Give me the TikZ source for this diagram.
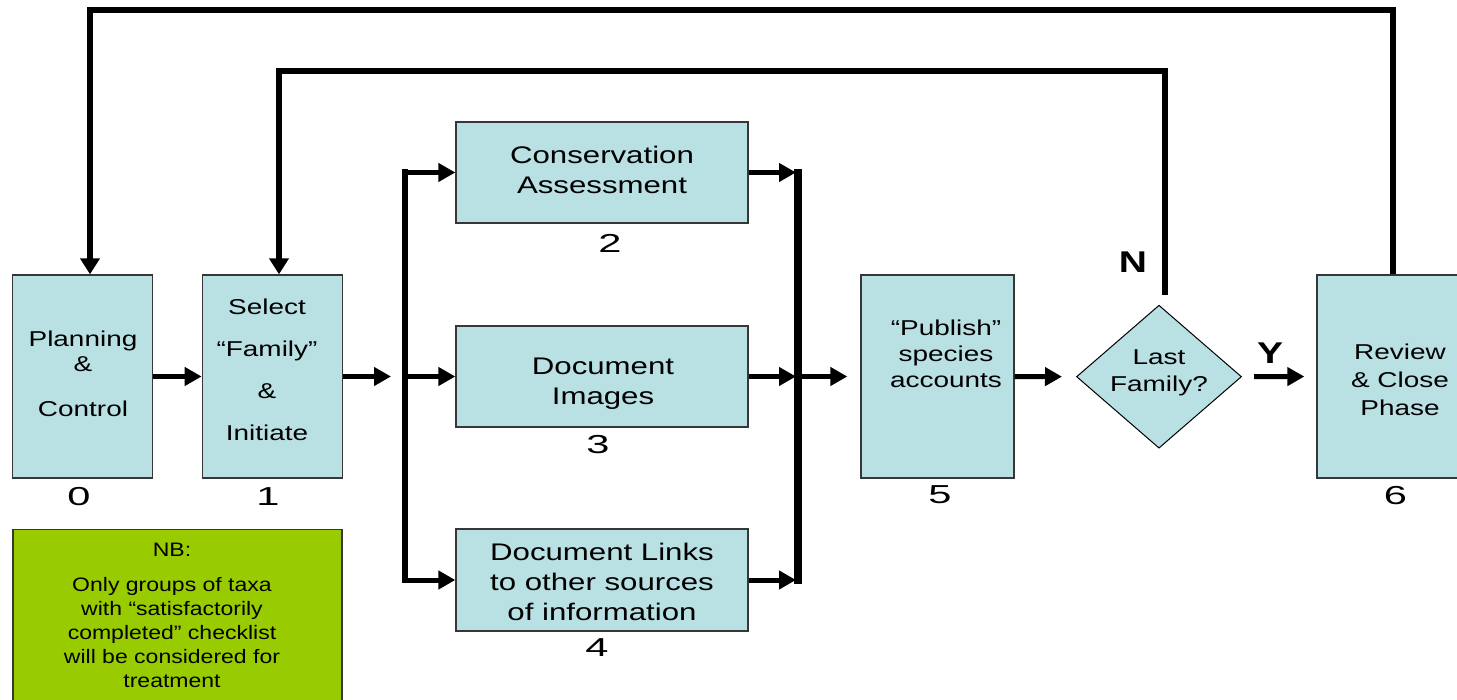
\documentclass[tikz,border=0pt]{standalone}
\usepackage{fontspec}
\setmainfont{Liberation Sans}[FakeStretch=1.3]
\newfontfamily\numfont{Liberation Sans}[FakeStretch=1.6]
\newfontfamily\notefont{Liberation Sans}[FakeStretch=1.18]
\usetikzlibrary{arrows.meta,shapes.geometric,calc}

\definecolor{boxblue}{RGB}{185,224,227}
\definecolor{notegreen}{RGB}{153,204,0}
\definecolor{edgegray}{RGB}{55,55,55}

\tikzset{
  stepbox/.style={draw=edgegray, line width=1.3pt, fill=boxblue, inner sep=0pt},
  txt/.style={align=center, inner sep=0pt, font=\fontsize{21.5}{27}\selectfont},
  bigtxt/.style={align=center, inner sep=0pt, font=\fontsize{24}{30}\selectfont},
  notetxt/.style={align=center, inner sep=0pt, font=\notefont\fontsize{19.5}{24}\selectfont},
  numlabel/.style={inner sep=0pt, font=\numfont\fontsize{26}{30}\selectfont},
  yn/.style={inner sep=0pt, font=\fontsize{30}{34}\selectfont\bfseries},
  conn/.style={line width=5pt, -{Triangle[length=17pt,width=18pt]}},
  loopline/.style={line width=6pt, -{Triangle[length=16pt,width=19pt]}},
  busbar/.style={line cap=rect},
}

\begin{document}
\begin{tikzpicture}[x=1pt,y=-1pt]
\useasboundingbox (0,0) rectangle (1457,700);

% process steps
\node[stepbox, minimum width=139.5pt, minimum height=203pt] (b0) at (82.5,376.5) {};
\node[stepbox, minimum width=140pt, minimum height=203pt] (b1) at (272.3,376.5) {};
\node[stepbox, minimum width=292pt, minimum height=101pt] (b2) at (602,172.5) {};
\node[stepbox, minimum width=292pt, minimum height=101pt] (b3) at (602,376.5) {};
\node[stepbox, minimum width=292pt, minimum height=102pt] (b4) at (602,580) {};
\node[stepbox, minimum width=153pt, minimum height=203pt] (b5) at (937.5,376.5) {};
\node[stepbox, minimum width=166pt, minimum height=203pt] (b6) at (1400,376.5) {};
\node[diamond, draw=black, line width=1pt, fill=boxblue, inner sep=0pt,
      minimum width=165pt, minimum height=143pt] (dia) at (1159,376.7) {};

% note box
\node[draw=edgegray, line width=1.3pt, fill=notegreen, inner sep=0pt,
      minimum width=329pt, minimum height=200pt] (nb) at (177.5,629.5) {};

% step texts
\node[txt] (t0) at (83,376) {\strut Planning\\[-1.3pt]\&\\[18pt]Control\strut};
\node[txt] (t1) at (267,372.1) {\strut Select\\[15pt]“Family”\\[15pt]\&\\[15pt]Initiate\strut};
\node[bigtxt] (t2) at (602,172.3) {\strut Conservation\\Assessment\strut};
\node[bigtxt] (t3) at (603,384) {\strut Document\\Images\strut};
\node[bigtxt] (t4) at (602,584) {\strut Document Links\\to other sources\\of information\strut};
\node[txt] (t5) at (946,356.6) {\strut “Publish”\\[-1pt]species\\[-1pt]accounts\strut};
\node[txt] (td) at (1159,372.5) {\strut Last\\[0.7pt]Family?\strut};
\node[txt] (t6) at (1400,382.6) {\strut Review\\[1pt]\& Close\\[1pt]Phase\strut};
\node[notetxt] (tnb) at (172,617.4) {\strut NB:\\[11pt]Only groups of taxa\\with “satisfactorily\\completed” checklist\\will be considered for\\treatment\strut};

% step numbers
\node[numlabel] (n0) at (79,497) {0};
\node[numlabel] (n1) at (268,497) {1};
\node[numlabel] (n2) at (610,243) {2};
\node[numlabel] (n3) at (598,445) {3};
\node[numlabel] (n4) at (597,648) {4};
\node[numlabel] (n5) at (940,495) {5};
\node[numlabel] (n6) at (1395.5,496) {6};

% decision labels
\node[yn] (lN) at (1133,262) {N};
\node[yn] (lY) at (1270,353) {Y};

% split and join bars
\coordinate (lt) at (405,172.5);
\coordinate (lm) at (405,376.5);
\coordinate (lb) at (405,580);
\coordinate (rt) at (798,172.5);
\coordinate (rm) at (798,376.5);
\coordinate (rb) at (798,580);
\draw[busbar, line width=6pt] (lt) -- (lb);
\draw[busbar, line width=7.5pt] (rt) -- (rb);

% forward flow
\draw[conn] (b0) -- (b1);
\draw[conn, shorten >=14pt] (b1.east) -- (lm);
\draw[conn] (lt) -- (b2.west);
\draw[conn] (lm) -- (b3.west);
\draw[conn] (lb) -- (b4.west);
\draw[conn, shorten >=2pt] (b2.east) -- (rt);
\draw[conn, shorten >=2pt] (b3.east) -- (rm);
\draw[conn, shorten >=2pt] (b4.east) -- (rb);
\draw[conn, shorten >=13pt] (rm) -- (b5.west);
\draw[conn, shorten >=14pt] (b5.east) -- (dia.west);
\draw[conn, shorten <=12pt, shorten >=12pt] (dia.east) -- (b6.west);

% feedback loops
\coordinate (c1) at (90,10);
\coordinate (c2) at (279,71);
\draw[loopline] ([xshift=-7pt]b6.north) |- (c1) -- ([xshift=7.5pt]b0.north);
\draw[loopline] ([xshift=6pt,yshift=10pt]dia.north) |- (c2) -- ([xshift=6.7pt]b1.north);
\end{tikzpicture}
\end{document}
